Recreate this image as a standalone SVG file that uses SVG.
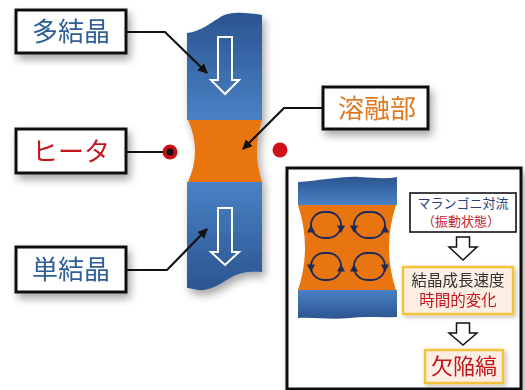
<svg xmlns="http://www.w3.org/2000/svg" width="525" height="390" viewBox="0 0 525 390">
  <defs>
    <linearGradient id="blueTop" x1="0" y1="0" x2="0" y2="1">
      <stop offset="0" stop-color="#2b5590"/>
      <stop offset="1" stop-color="#4a81c4"/>
    </linearGradient>
    <linearGradient id="blueBottom" x1="0" y1="0" x2="0" y2="1">
      <stop offset="0" stop-color="#4a81c4"/>
      <stop offset="1" stop-color="#2b5590"/>
    </linearGradient>
    <filter id="shadow" x="-30%" y="-30%" width="160%" height="160%">
      <feDropShadow dx="3" dy="5" stdDeviation="4" flood-color="#000" flood-opacity="0.35"/>
    </filter>
    <filter id="softShadow" x="-20%" y="-20%" width="140%" height="140%">
      <feDropShadow dx="2" dy="2" stdDeviation="2" flood-color="#000" flood-opacity="0.25"/>
    </filter>
    <marker id="tip" viewBox="0 0 10 10" refX="9" refY="5" markerWidth="4.5" markerHeight="4.5" orient="auto">
      <path d="M0,0 L10,5 L0,10 Z" fill="#111"/>
    </marker>
    <path id="loopHead" d="M-4,-3.5 L4,-3.5 L0,4 Z" fill="#1b2a5a"/>
  </defs>
  <style>
    .label { fill: #fff; stroke: #111; stroke-width: 3; }
    .jp { font-family: "Noto Sans CJK JP", "Noto Sans", sans-serif; text-anchor: middle; }
    .big { font-size: 26px; }
    .blue { fill: #2e5d99; }
    .red { fill: #c3161c; }
    .orangeT { fill: #e07a22; }
    .conn { fill: none; stroke: #111; stroke-width: 2.2; }
    .loop { fill: none; stroke: #1b2a5a; stroke-width: 1.8; }
    .melt { fill: #e8750f; }
    .hollow { fill: #fff; stroke: #111; stroke-width: 1.5; }
    .note { fill: #fdeee4; stroke: #f3c338; stroke-width: 2.5; }
  </style>

  <!-- main crystal rod -->
  <g id="rod" filter="url(#shadow)">
    <path d="M187,120 L187,33 C200,32 212,22 222,16 C232,11 248,13 262,15 L262,120 Z" fill="url(#blueTop)"/>
    <path class="melt" d="M188,120 L262,120 Q252,151 262,182 L188,182 Q202,151 188,120 Z"/>
    <path d="M187,182 L262,182 L262,272 C250,271 240,272 230,278 C218,286 208,291 198,290 C193,289 190,288 187,288 Z" fill="url(#blueBottom)"/>
  </g>
  <g id="arrow-top">
    <path d="M218,37 H232 V80 H239 L225,94 L211,80 H218 Z" fill="none" stroke="#fff" stroke-width="2"/>
  </g>
  <g id="arrow-bottom">
    <path d="M218,208 H232 V252 H239 L225,265 L211,252 H218 Z" fill="none" stroke="#fff" stroke-width="2"/>
  </g>

  <!-- heater dots -->
  <g id="heater-left">
    <circle cx="170" cy="152" r="7.5" fill="#c8101a"/>
    <circle cx="170" cy="152" r="3.5" fill="#111"/>
  </g>
  <g id="heater-right">
    <circle cx="280" cy="150" r="7.5" fill="#d0101a"/>
  </g>

  <!-- label connectors -->
  <g id="connectors">
    <polyline class="conn" points="126,32 165,32 207,73" marker-end="url(#tip)"/>
    <line class="conn" x1="126" y1="152" x2="163" y2="152"/>
    <polyline class="conn" points="323,108 284,108 243,149" marker-end="url(#tip)"/>
    <polyline class="conn" points="126,270 167,270 207,229" marker-end="url(#tip)"/>
    <line x1="411" y1="213" x2="382" y2="257" stroke="#111" stroke-width="1.5"/>
    <circle cx="382" cy="257" r="2" fill="#111"/>
  </g>

  <!-- labels -->
  <g id="label-poly" filter="url(#shadow)">
    <rect class="label" x="16" y="10" width="110" height="43"/>
    <text class="jp big blue" x="71" y="41">多結晶</text>
  </g>
  <g id="label-heater" filter="url(#shadow)">
    <rect class="label" x="16" y="129" width="110" height="44"/>
    <text class="jp big red" x="71" y="161">ヒータ</text>
  </g>
  <g id="label-single" filter="url(#shadow)">
    <rect class="label" x="16" y="247" width="110" height="45"/>
    <text class="jp big blue" x="71" y="279">単結晶</text>
  </g>
  <g id="label-melt" filter="url(#shadow)">
    <rect class="label" x="323" y="87" width="105" height="42"/>
    <text class="jp big orangeT" x="377" y="118">溶融部</text>
  </g>

  <!-- inset: Marangoni convection -->
  <g id="inset" filter="url(#shadow)">
    <rect x="287" y="168" width="234" height="221" fill="#fff" stroke="#111" stroke-width="3"/>
  </g>
  <g id="inset-rod">
    <path d="M298,205 L298,182 C320,181 340,176 360,177 C375,178 388,179 397,177 L397,205 Z" fill="url(#blueTop)"/>
    <path class="melt" d="M298,205 L396,205 Q382,248 396,290 L298,290 Q312,248 298,205 Z"/>
    <path d="M298,290 L397,290 L397,317 C380,318 365,316 350,318 C330,320 315,317 298,318 Z" fill="url(#blueBottom)"/>
  </g>
  <g id="loops">
    <rect class="loop" x="311" y="212" width="30" height="26" rx="13"/>
    <rect class="loop" x="354" y="212" width="31" height="26" rx="13"/>
    <rect class="loop" x="311" y="253" width="30" height="27" rx="13"/>
    <rect class="loop" x="354" y="253" width="31" height="27" rx="13"/>
    <use href="#loopHead" transform="translate(311,229) rotate(180)"/>
    <use href="#loopHead" transform="translate(341,229)"/>
    <use href="#loopHead" transform="translate(354,229)"/>
    <use href="#loopHead" transform="translate(385,229) rotate(180)"/>
    <use href="#loopHead" transform="translate(311,268)"/>
    <use href="#loopHead" transform="translate(341,268) rotate(180)"/>
    <use href="#loopHead" transform="translate(354,268) rotate(180)"/>
    <use href="#loopHead" transform="translate(385,268)"/>
  </g>
  <g id="box-marangoni">
    <rect x="410" y="193" width="106" height="39" fill="#fff" stroke="#111" stroke-width="1.6"/>
    <text class="jp" x="463" y="208" font-size="13" fill="#2b3f7a">マランゴニ対流</text>
    <text class="jp" x="461" y="226" font-size="13" fill="#c3262c">（振動状態）</text>
  </g>
  <g id="step-arrow-1">
    <path class="hollow" d="M456.5,237 H469.5 V247 H477 L463,260 L449,247 H456.5 Z"/>
  </g>
  <g id="box-growth" filter="url(#softShadow)">
    <rect class="note" x="403" y="267" width="110" height="47"/>
    <text class="jp" x="458" y="286" font-size="15.5" fill="#333">結晶成長速度</text>
    <text class="jp" x="458" y="306" font-size="15.5" fill="#c3161c">時間的変化</text>
  </g>
  <g id="step-arrow-2">
    <path class="hollow" d="M456.5,323 H469.5 V333 H477 L463,345 L449,333 H456.5 Z"/>
  </g>
  <g id="box-defect" filter="url(#softShadow)">
    <rect class="note" x="425" y="350" width="78" height="33"/>
    <text class="jp" x="464" y="374" font-size="22" fill="#c3161c">欠陥縞</text>
  </g>
</svg>
